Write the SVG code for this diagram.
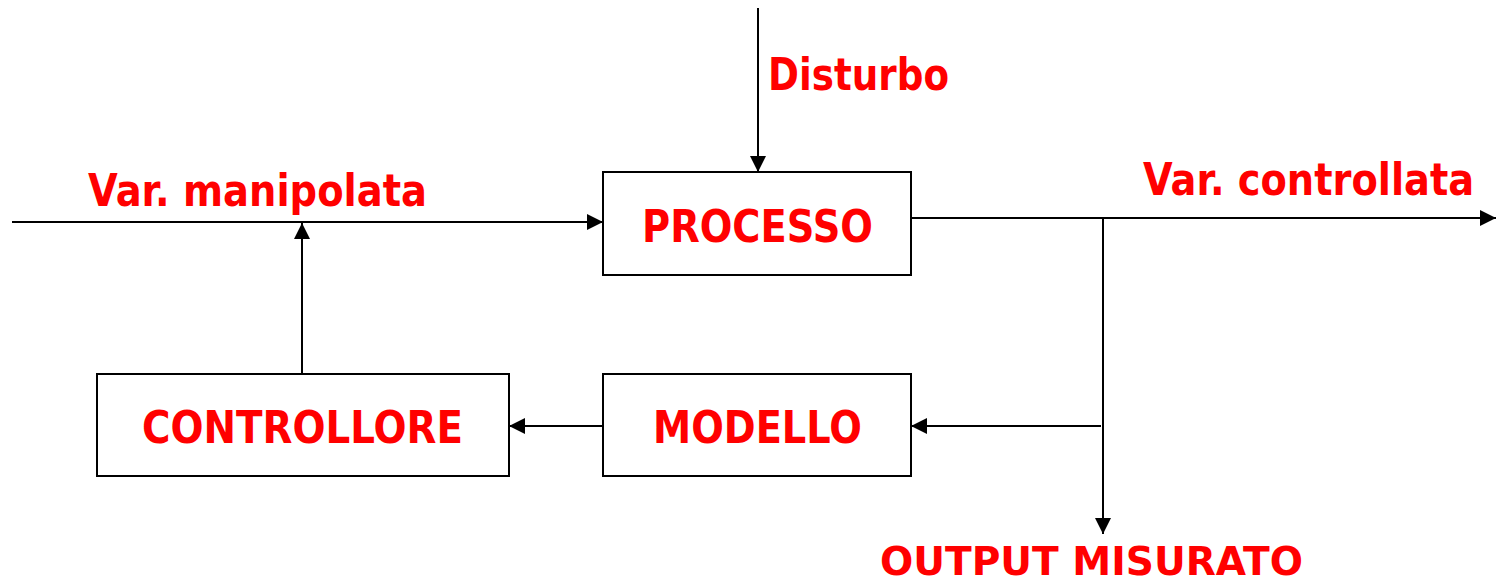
<svg xmlns="http://www.w3.org/2000/svg" width="1496" height="583" viewBox="0 0 1496 583">
<style>
.box{fill:#fff;stroke:#000;stroke-width:2}
.lbl{font-family:"DejaVu Sans","Liberation Sans",sans-serif;font-weight:bold;font-size:45px;fill:#ff0000}
.sm{font-size:39px}
.ln{stroke:#000;stroke-width:2;fill:none}
</style>
<defs>
<marker id="ah" viewBox="0 0 10 10" refX="10" refY="5" markerWidth="16" markerHeight="16" markerUnits="userSpaceOnUse" orient="auto">
<path d="M0,0 L10,5 L0,10 Z" fill="#000"/>
</marker>
</defs>
<g id="connectors">
<line class="ln" x1="758" y1="8" x2="758" y2="172" marker-end="url(#ah)"/>
<line class="ln" x1="12" y1="222" x2="603" y2="222" marker-end="url(#ah)"/>
<line class="ln" x1="302" y1="374" x2="302" y2="223" marker-end="url(#ah)"/>
<line class="ln" x1="908" y1="218" x2="1496" y2="218" marker-end="url(#ah)"/>
<line class="ln" x1="1103" y1="218" x2="1103" y2="534" marker-end="url(#ah)"/>
<line class="ln" x1="1101" y1="426" x2="911" y2="426" marker-end="url(#ah)"/>
<line class="ln" x1="603" y1="426" x2="509" y2="426" marker-end="url(#ah)"/>
</g>
<g id="processo">
<rect class="box" x="603" y="172" width="308" height="103"/>
<text class="lbl" x="642" y="242" textLength="231" lengthAdjust="spacingAndGlyphs">PROCESSO</text>
</g>
<g id="controllore">
<rect class="box" x="97" y="374" width="412" height="102"/>
<text class="lbl" x="142" y="443" textLength="321" lengthAdjust="spacingAndGlyphs">CONTROLLORE</text>
</g>
<g id="modello">
<rect class="box" x="603" y="374" width="308" height="102"/>
<text class="lbl" x="653" y="443" textLength="209" lengthAdjust="spacingAndGlyphs">MODELLO</text>
</g>
<g id="labels">
<text class="lbl" x="768" y="90" textLength="181" lengthAdjust="spacingAndGlyphs">Disturbo</text>
<text class="lbl" x="88" y="206" textLength="339" lengthAdjust="spacingAndGlyphs">Var. manipolata</text>
<text class="lbl" transform="translate(1143 195) scale(0.834 1)" x="0" y="0" textLength="397" lengthAdjust="spacingAndGlyphs">Var. controllata</text>
<text class="lbl sm" x="880" y="575" textLength="423" lengthAdjust="spacingAndGlyphs">OUTPUT MISURATO</text>
</g>
</svg>
